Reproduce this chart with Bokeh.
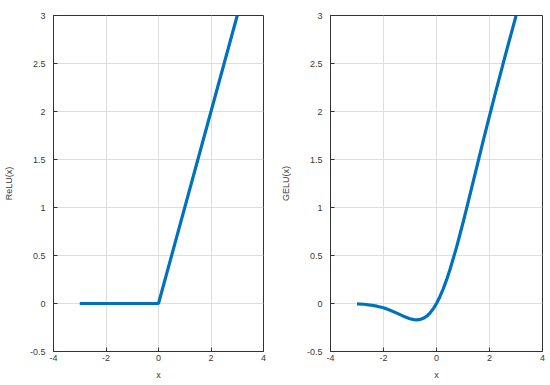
from bokeh.plotting import figure
from bokeh.layouts import row
from bokeh.models import FixedTicker
from bokeh.embed import file_html
from bokeh.resources import INLINE

# data
relu_x = [-3.0, 0.0, 3.0]
relu_y = [0.0, 0.0, 3.0]

gelu_x = [-3.0, -2.75, -2.5, -2.25, -2.0, -1.75, -1.5, -1.25, -1.0, -0.85, -0.75, -0.6, -0.5,
          -0.35, -0.25, -0.1, 0.0, 0.1, 0.25, 0.4, 0.5, 0.75, 1.0, 1.25, 1.5, 1.75, 2.0,
          2.25, 2.5, 2.75, 3.0]
gelu_y = [-0.004, -0.008, -0.016, -0.028, -0.045, -0.07, -0.100, -0.132, -0.159, -0.168, -0.170,
          -0.165, -0.154, -0.128, -0.100, -0.046, 0.0, 0.054, 0.150, 0.262, 0.346, 0.579, 0.841,
          1.118, 1.400, 1.680, 1.955, 2.223, 2.484, 2.742, 2.996]

x_ticks = [-4, -2, 0, 2, 4]
x_tick_labels = ["-4", "-2", "0", "2", "4"]
y_ticks = [-0.5, 0, 0.5, 1, 1.5, 2, 2.5, 3]
y_tick_labels = ["-0.5", "0", "0.5", "1", "1.5", "2", "2.5", "3"]

FONT = "Liberation Sans"
TXT = "#3a3a3a"
LINE = "#0072BD"


def make(xs, ys, ylabel, width, left, right):
    p = figure(width=width, height=384, x_range=(-4, 4), y_range=(-0.5, 3),
               output_backend="svg", toolbar_location=None,
               min_border_left=left, min_border_right=right,
               min_border_top=15, min_border_bottom=33)
    p.line(xs, ys, line_color=LINE, line_width=3.2)
    p.xaxis.ticker = FixedTicker(ticks=x_ticks)
    p.yaxis.ticker = FixedTicker(ticks=y_ticks)
    p.xaxis.major_label_overrides = {t: l for t, l in zip(x_ticks, x_tick_labels)}
    p.yaxis.major_label_overrides = {t: l for t, l in zip(y_ticks, y_tick_labels)}
    for ax in (p.xaxis, p.yaxis):
        ax.major_tick_in = 4
        ax.major_tick_out = 0
        ax.minor_tick_in = 0
        ax.minor_tick_out = 0
        ax.axis_line_color = "#333333"
        ax.major_tick_line_color = "#333333"
        ax.major_label_text_font = FONT
        ax.major_label_text_font_size = "9px"
        ax.major_label_text_color = TXT
        ax.axis_label_text_font = FONT
        ax.axis_label_text_font_size = "9px"
        ax.axis_label_text_font_style = "normal"
        ax.axis_label_text_color = TXT
    p.xaxis.axis_label = "x"
    p.yaxis.axis_label = ylabel
    p.xaxis.major_label_standoff = 3
    p.xaxis.axis_label_standoff = 6
    p.yaxis.major_label_standoff = 8
    p.yaxis.axis_label_standoff = 13
    p.xgrid.grid_line_color = "#dedede"
    p.ygrid.grid_line_color = "#dedede"
    p.outline_line_color = "#333333"
    p.outline_line_alpha = 1
    p.background_fill_color = "white"
    p.border_fill_color = "white"
    return p


p1 = make(relu_x, relu_y, "ReLU(x)", 276, 52, 13)
p2 = make(gelu_x, gelu_y, "GELU(x)", 272, 54, 6)
layout = row(p1, p2)

open("out.html", "w").write(file_html(layout, INLINE))
